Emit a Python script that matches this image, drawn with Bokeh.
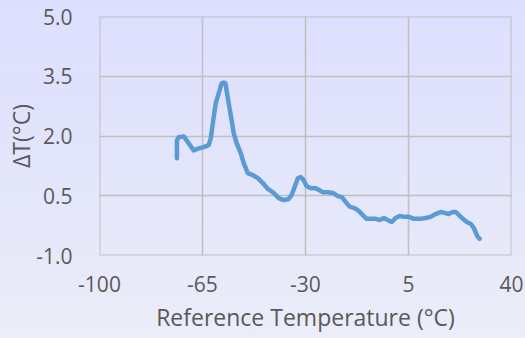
from bokeh.plotting import figure
from bokeh.models import FixedTicker, ColumnDataSource, Span
from bokeh.embed import file_html
from bokeh.resources import INLINE

# Reference temperature (°C) and ΔT (°C)
ref_temp = [-73.7, -73.7, -73.1, -71.4, -69.7, -68.0, -66.3, -64.6, -62.9, -62.2,
            -61.2, -60.5, -59.5, -58.5, -57.8, -57.2, -56.1, -55.1, -54.4, -53.4,
            -52.0, -51.0, -49.6, -47.9, -46.2, -44.5, -42.8, -40.8, -39.1, -37.4,
            -35.7, -34.7, -33.7, -32.6, -31.6, -30.6, -29.6, -28.2, -26.5, -24.8,
            -24.1, -22.4, -20.7, -19.0, -17.7, -16.3, -14.9, -13.3, -11.9, -10.6,
            -9.2, -7.8, -6.1, -4.8, -3.4, -2.1, -0.7, 0.6, 2.0, 3.7,
            5.1, 6.8, 8.1, 9.1, 10.8, 12.5, 14.2, 15.9, 17.3, 18.7,
            20.0, 21.1, 22.1, 23.5, 24.8, 26.2, 27.2, 27.9, 28.5, 29.2]
delta_t = [1.44, 1.89, 1.97, 1.99, 1.82, 1.64, 1.69, 1.72, 1.77, 1.94,
           2.47, 2.82, 3.07, 3.32, 3.34, 3.32, 2.82, 2.39, 2.07, 1.82,
           1.57, 1.32, 1.07, 1.02, 0.94, 0.82, 0.67, 0.57, 0.44, 0.39,
           0.42, 0.52, 0.72, 0.94, 0.97, 0.89, 0.74, 0.69, 0.69, 0.62,
           0.59, 0.59, 0.57, 0.49, 0.47, 0.34, 0.22, 0.19, 0.12, 0.02,
           -0.08, -0.08, -0.08, -0.11, -0.06, -0.11, -0.16, -0.06, -0.01, -0.03,
           -0.03, -0.08, -0.08, -0.08, -0.06, -0.03, 0.04, 0.09, 0.07, 0.04,
           0.09, 0.09, 0.02, -0.08, -0.16, -0.21, -0.31, -0.43, -0.53, -0.58]

x_ticks = [-100, -65, -30, 5, 40]
x_tick_labels = ["-100", "-65", "-30", "5", "40"]
y_ticks = [-1.0, 0.5, 2.0, 3.5, 5.0]
y_tick_labels = ["-1.0", "0.5", "2.0", "3.5", "5.0"]

FONT = "Open Sans"
TEXT = "#595959"
GRID = "#BFBFBF"

p = figure(width=525, height=338, output_backend="svg", toolbar_location=None,
           x_range=(x_ticks[0], x_ticks[-1]), y_range=(y_ticks[0], y_ticks[-1]),
           min_border_left=99, min_border_right=14, min_border_top=16,
           min_border_bottom=83)

p.background_fill_alpha = 0
p.border_fill_alpha = 0
p.outline_line_color = None
p.styles = {"background": "linear-gradient(to bottom, #DDDFFF 0%, #E3E5FB 50%, #EBEDF8 100%)"}

# plot-area border (edges of the value ranges), same style as the gridlines
for loc, dim in ((x_ticks[0], "height"), (x_ticks[-1], "height"),
                 (y_ticks[0], "width"), (y_ticks[-1], "width")):
    p.add_layout(Span(location=loc, dimension=dim, line_color=GRID, line_width=2))

src = ColumnDataSource(dict(x=ref_temp, y=delta_t))
p.line("x", "y", source=src, line_color="#5B9BD5", line_width=4.5,
       line_cap="round", line_join="round")

p.xaxis.ticker = FixedTicker(ticks=x_ticks)
p.yaxis.ticker = FixedTicker(ticks=y_ticks)
p.xaxis.major_label_overrides = {t: l for t, l in zip(x_ticks, x_tick_labels)}
p.yaxis.major_label_overrides = {t: l for t, l in zip(y_ticks, y_tick_labels)}

for ax in (p.xaxis, p.yaxis):
    ax.axis_line_color = None
    ax.major_tick_line_color = None
    ax.minor_tick_line_color = None
    ax.major_label_text_font = FONT
    ax.major_label_text_font_size = "21px"
    ax.major_label_text_color = TEXT
    ax.axis_label_text_font = FONT
    ax.axis_label_text_font_size = "23px"
    ax.axis_label_text_font_style = "normal"
    ax.axis_label_text_color = TEXT

p.xaxis.axis_label = "Reference Temperature (°C)"
p.yaxis.axis_label = "ΔT(°C)"
p.xaxis.major_label_standoff = 14
p.yaxis.major_label_standoff = 21
p.xaxis.axis_label_standoff = 6
p.yaxis.axis_label_standoff = -4

p.xgrid.grid_line_color = GRID
p.ygrid.grid_line_color = GRID
p.xgrid.grid_line_width = 1.5
p.ygrid.grid_line_width = 1.5

open("out.html", "w").write(file_html(p, INLINE))
